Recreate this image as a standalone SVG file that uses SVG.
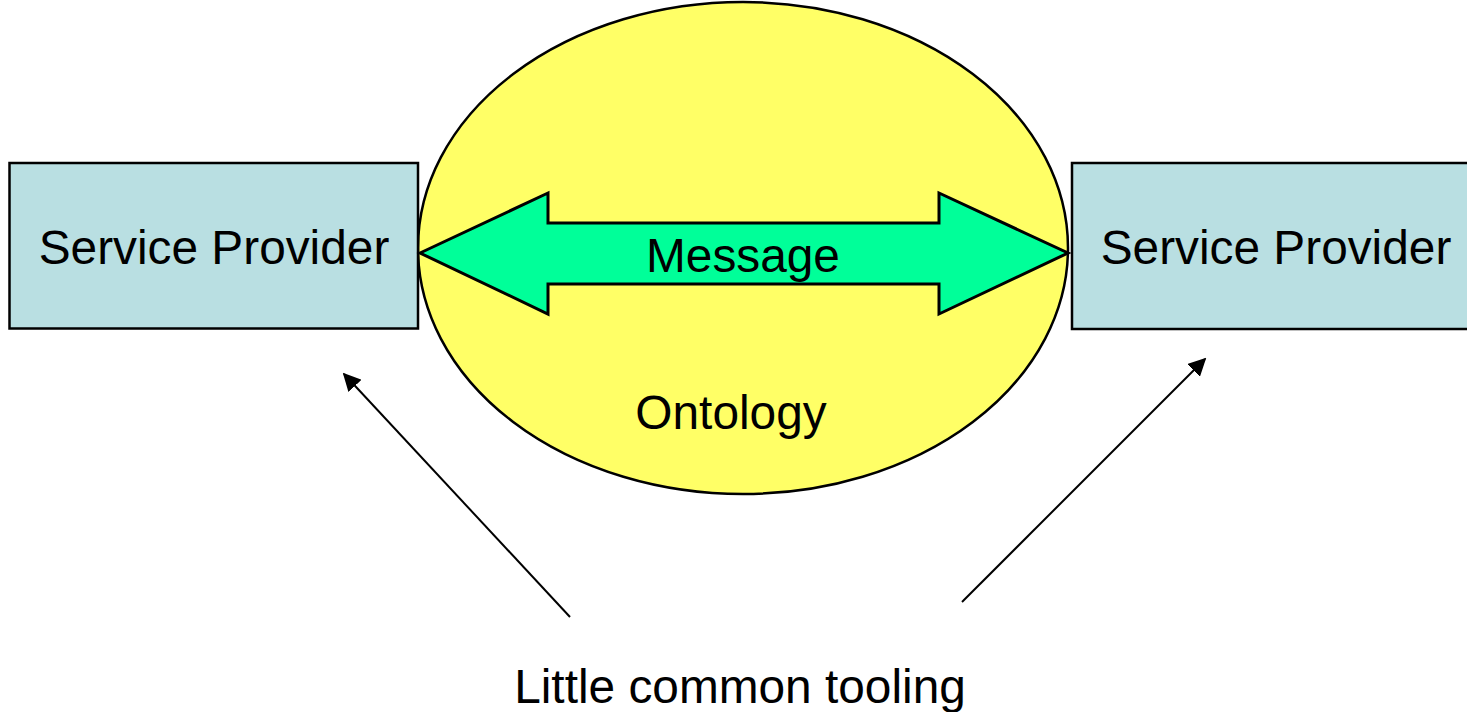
<svg xmlns="http://www.w3.org/2000/svg" width="1467" height="712" viewBox="0 0 1467 712">
<style>
.box{fill:#b9dfe2;stroke:#000;stroke-width:2.5}
.t{font-family:"Liberation Sans",Arial,sans-serif;font-size:47.8px;fill:#000}
.c{stroke:#000;stroke-width:2;fill:none}
</style>
<defs>
<marker id="ah" viewBox="0 0 10 10" refX="9" refY="5" markerWidth="18" markerHeight="18" markerUnits="userSpaceOnUse" orient="auto">
<path d="M0,0 L10,5 L0,10 z" fill="#000"/>
</marker>
</defs>
<rect width="1467" height="712" fill="#fff"/>
<g id="ontology">
<ellipse cx="743" cy="248" rx="325" ry="246" fill="#ffff66" stroke="#000" stroke-width="2.5"/>
<text class="t" x="731" y="429" text-anchor="middle">Ontology</text>
</g>
<g id="provider-left">
<rect class="box" x="9.5" y="163" width="408.5" height="165.5"/>
<text class="t" x="214" y="264" text-anchor="middle">Service Provider</text>
</g>
<g id="provider-right">
<rect class="box" x="1072" y="163" width="397" height="166"/>
<text class="t" x="1276" y="264" text-anchor="middle">Service Provider</text>
</g>
<g id="message">
<path d="M420,253 L548,193 L548,223 L939,223 L939,193 L1068,253 L939,314 L939,284 L548,284 L548,314 Z" fill="#00ff99" stroke="#000" stroke-width="3" stroke-linejoin="miter"/>
<text class="t" x="743" y="272" text-anchor="middle">Message</text>
</g>
<g id="connectors">
<line class="c" x1="570" y1="617" x2="344" y2="374" marker-end="url(#ah)"/>
<line class="c" x1="962" y1="602" x2="1205" y2="359" marker-end="url(#ah)"/>
</g>
<g id="label">
<text class="t" x="740" y="703" text-anchor="middle">Little common tooling</text>
</g>
</svg>
